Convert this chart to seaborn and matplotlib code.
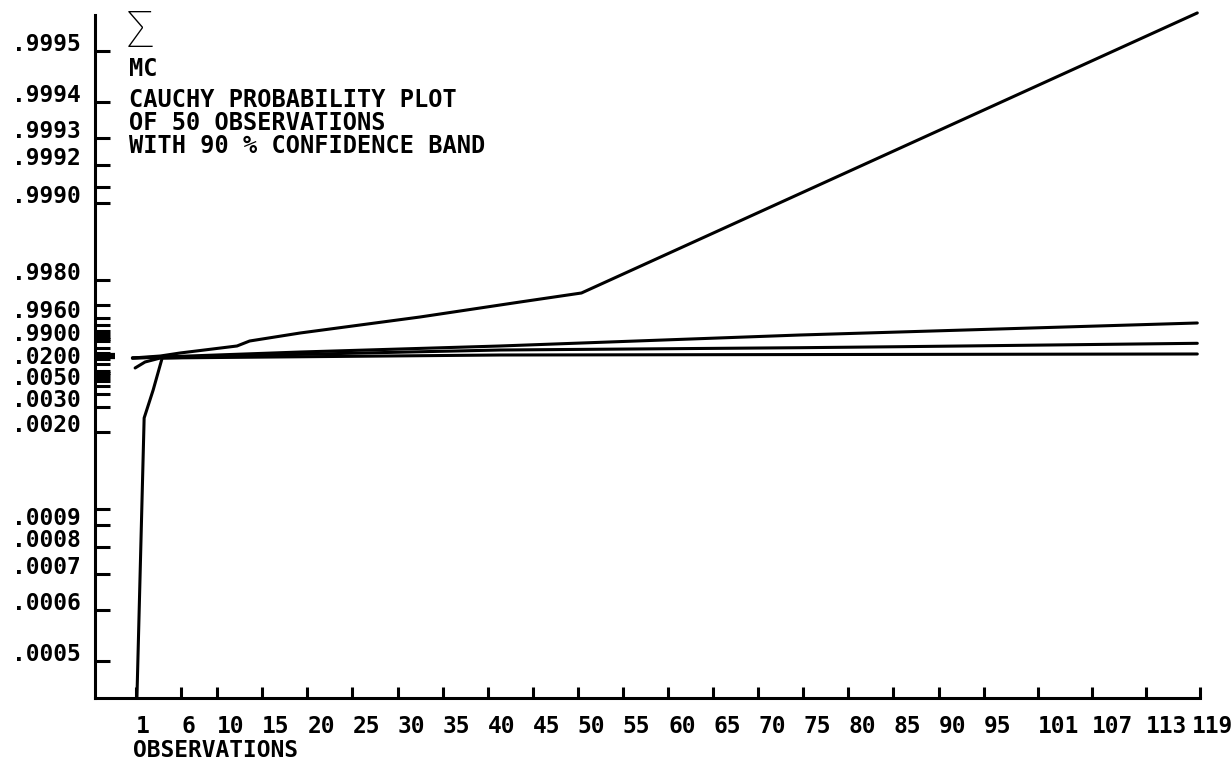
import numpy as np
import pandas as pd
import matplotlib
matplotlib.use("Agg")
import matplotlib.pyplot as plt
import matplotlib.transforms as mtransforms
import seaborn as sns

# ---- traced curves: observation index vs. Cauchy score ----
upper_obs = [0.6, 3.7, 5.9, 12.2, 13.6, 19.2, 32.5, 43.6, 50.4, 118.7]
upper_val = [-4.2, 0.0, 6.3, 20.9, 31.3, 48.0, 81.4, 112.7, 131.5, 716.0]

mid_hi_obs = [0.6, 19.2, 41.4, 74.6, 118.7]
mid_hi_val = [-4.2, 8.3, 20.9, 43.8, 68.9]

mid_lo_obs = [0.6, 41.4, 74.6, 85.7, 118.7]
mid_lo_val = [-4.2, 12.5, 17.3, 19.4, 26.5]

lower_obs = [0.9, 2.0, 3.7, 41.4, 118.7]
lower_val = [-25.0, -12.5, -4.2, 2.1, 4.2]

sample_obs = [1.1, 1.9, 2.9, 3.9, 8.1]
sample_val = [-713.0, -129.4, -71.0, -4.2, -2.1]

# ---- axis annotations ----
x_ticks = [1, 6, 10, 15, 20, 25, 30, 35, 40, 45, 50, 55, 60, 65, 70, 75,
           80, 85, 90, 95, 101, 107, 113, 119]
prob_labeled = [.9995, .9994, .9993, .9992, .9990, .9980, .9960, .9900,
                .0200, .0050, .0030, .0020, .0009, .0008, .0007, .0006, .0005]
prob_labels = [".9995", ".9994", ".9993", ".9992", ".9990", ".9980", ".9960",
               ".9900", ".0200", ".0050", ".0030", ".0020", ".0009", ".0008",
               ".0007", ".0006", ".0005"]
prob_unlabeled = [.9991, .9970, .9950, .9940, .9930, .9920, .9910, .98, .95,
                  .90, .80, .70, .60, .40, .30, .20, .10, .05, .01, .009,
                  .008, .007, .006, .004, .001]
prob_center = [.50]

title_lines = ["CAUCHY PROBABILITY PLOT", "OF 50 OBSERVATIONS",
               "WITH 90 % CONFIDENCE BAND"]


def cauchy_score(p):
    return np.tan(np.pi * (np.asarray(p, dtype=float) - 0.5))


sns.set_style("white")
plt.rcParams["font.family"] = ["DejaVu Sans Mono", "DejaVu Sans"]
plt.rcParams["font.weight"] = "bold"
plt.rcParams["text.color"] = "black"

FS = 16.5      # axis labels
FS_T = 17      # annotation block
W, H = 1232, 763
fig = plt.figure(figsize=(W / 100, H / 100), dpi=100)
ax = fig.add_axes([95 / W, 1 - 698 / H, (1200 - 95) / W, (698 - 15) / H])


def shift(artist, dx_px, dy_px):
    """Nudge a text artist by a few pixels (dy positive = up)."""
    off = mtransforms.ScaledTranslation(dx_px / fig.dpi, dy_px / fig.dpi,
                                        fig.dpi_scale_trans)
    artist.set_transform(artist.get_transform() + off)


curves = [("upper", upper_obs, upper_val),
          ("mid_hi", mid_hi_obs, mid_hi_val),
          ("mid_lo", mid_lo_obs, mid_lo_val),
          ("lower", lower_obs, lower_val),
          ("sample", sample_obs, sample_val)]
df = pd.concat([pd.DataFrame({"obs": xs, "score": ys, "curve": name})
                for name, xs, ys in curves], ignore_index=True)

sns.lineplot(data=df, x="obs", y="score", units="curve", estimator=None,
             sort=False, color="black", lw=2.2, ax=ax, legend=False)
for ln in ax.lines:
    ln.set_clip_on(False)
    ln.set_solid_capstyle("round")
    ln.set_solid_joinstyle("round")

ax.set_xlim(-3.55, 119)
ax.set_ylim(-713.8, 711.7)

for side in ("top", "right"):
    ax.spines[side].set_visible(False)
for side in ("left", "bottom"):
    ax.spines[side].set_linewidth(2.2)
    ax.spines[side].set_color("black")
    ax.spines[side].set_capstyle("projecting")

# y axis: probability levels placed at their Cauchy scores
ticks = list(prob_labeled) + list(prob_unlabeled)
labels = list(prob_labels) + [""] * len(prob_unlabeled)
ax.set_yticks(cauchy_score(ticks))
ax.set_yticklabels(labels)
ax.set_yticks(cauchy_score(prob_center), minor=True)
ax.tick_params(axis="y", which="both", left=True, right=False)
ax.tick_params(axis="y", which="major", direction="in", length=10.8,
               width=2.2, pad=10.5, labelsize=FS, colors="black")
ax.tick_params(axis="y", which="minor", direction="in", length=14.5,
               width=4.5, colors="black")

# x axis
ax.set_xticks(x_ticks)
ax.set_xticklabels([str(v) for v in x_ticks])
ax.tick_params(axis="x", bottom=True, top=False, direction="in", length=8,
               width=2.2, pad=12, labelsize=FS, colors="black")

for lbl in ax.get_yticklabels():
    lbl.set_verticalalignment("baseline")
    lbl.set_fontweight("bold")
    if lbl.get_text() == ".0050":
        shift(lbl, 0, 1.5)
for lbl in ax.get_xticklabels():
    lbl.set_horizontalalignment("left")
    lbl.set_fontweight("bold")
    if lbl.get_text() == "119":
        shift(lbl, -8, 0)

ax.set_xlabel("")
ax.set_ylabel("")
fig.text(133 / W, 1 - 757 / H, "OBSERVATIONS", fontsize=FS,
         fontweight="bold", va="baseline", ha="left", color="black")

# annotation block in the upper left: summation sign stacked over "MC"
fig.text(127 / W, 1 - 57 / H, "\u03a3", fontsize=36,
         family=["Roboto", "DejaVu Sans"], fontweight="light",
         va="bottom", ha="left", color="black")
fig.text(129 / W, 1 - 57.5 / H, "MC", fontsize=FS_T, fontweight="bold",
         va="top", ha="left", color="black")
for i, line in enumerate(title_lines):
    fig.text(129 / W, 1 - (107 + 23 * i) / H, line, fontsize=FS_T,
             fontweight="bold", va="baseline", ha="left", color="black")

fig.savefig("out.png", dpi=100, facecolor="white")
